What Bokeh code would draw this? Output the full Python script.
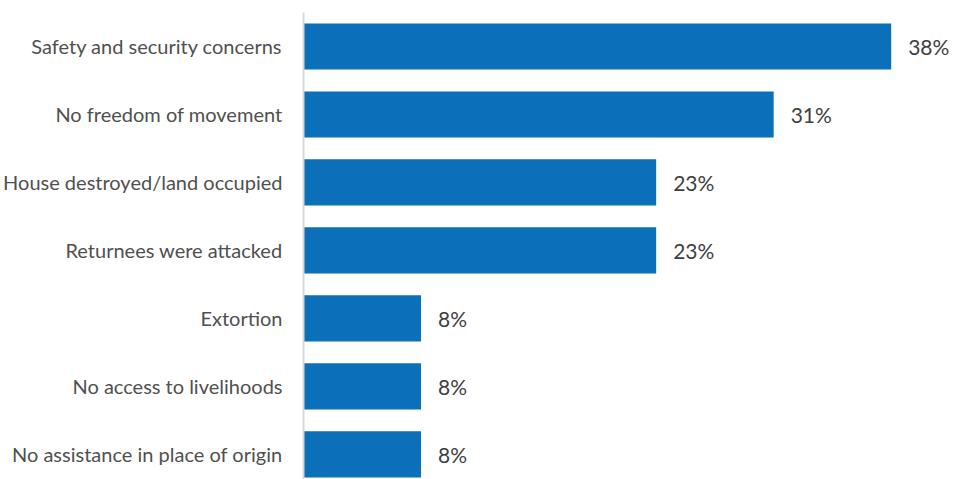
from bokeh.plotting import figure
from bokeh.models import ColumnDataSource, LabelSet, Range1d, FixedTicker
from bokeh.core.properties import value
from bokeh.embed import file_html
from bokeh.resources import INLINE

categories = [
    "Safety and security concerns",
    "No freedom of movement",
    "House destroyed/land occupied",
    "Returnees were attacked",
    "Extortion",
    "No access to livelihoods",
    "No assistance in place of origin",
]
values = [38.46, 30.77, 23.08, 23.08, 7.69, 7.69, 7.69]
value_labels = ["38%", "31%", "23%", "23%", "8%", "8%", "8%"]

positions = list(range(len(categories)))

source = ColumnDataSource(dict(
    y=positions, right=values, cat=categories, lab=value_labels,
))

p = figure(
    width=957, height=479,
    output_backend="svg", toolbar_location=None,
    x_range=Range1d(0, 42.8), y_range=Range1d(6.368, -0.5),
    min_border_left=303, min_border_right=0, min_border_top=12, min_border_bottom=0,
)
p.outline_line_color = None
p.xaxis.visible = False
p.xgrid.visible = False
p.ygrid.visible = False
p.background_fill_color = "white"
p.border_fill_color = "white"

ax = p.yaxis[0]
ax.ticker = FixedTicker(ticks=positions)
ax.major_label_overrides = {i: c for i, c in zip(positions, categories)}
ax.major_tick_in = 0
ax.major_tick_out = 0
ax.minor_tick_in = 0
ax.minor_tick_out = 0
ax.major_label_standoff = 21
ax.axis_line_color = "#d9d9d9"
ax.axis_line_width = 2
ax.major_label_text_font = "Lato"
ax.major_label_text_font_size = "20px"
ax.major_label_text_color = "#505050"

p.hbar(y="y", right="right", left=0, height=0.68, source=source,
       fill_color="#0b70b9", line_color=None)

val_labels = LabelSet(x="right", y="y", text="lab", source=source, x_offset=17,
                      text_align="left", text_baseline="middle",
                      text_font=value("Lato"), text_font_size="21px", text_color="#404040")
p.add_layout(val_labels)

open("out.html", "w").write(file_html(p, INLINE))
